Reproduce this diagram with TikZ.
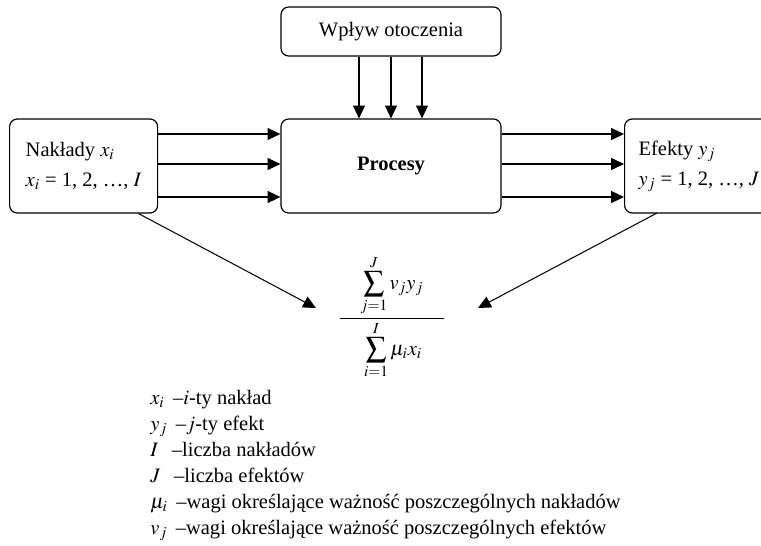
\documentclass[tikz,border=0pt,12pt]{standalone}
\usepackage{amsmath}
\usepackage{mathptmx}
\usepackage{fontspec}
\setmainfont{Liberation Serif}
\usetikzlibrary{arrows.meta,calc}
\tikzset{>={Triangle[length=7.5pt,width=7pt]}}
\tikzset{blok/.style={draw,rounded corners=4.5pt,line width=0.7pt},
         strz/.style={->,line width=0.6pt}}

\begin{document}
\begin{tikzpicture}[x=0.585pt,y=-0.585pt]
\clip (0,0) rectangle (761,546);
\node[blok,minimum width=128.7pt,minimum height=28.7pt] (otocz) at (391,31.5) {Wpływ otoczenia};
\node[blok,minimum width=128.7pt,minimum height=55pt] (proc) at (391,166) {\textbf{Procesy}};
\node[blok,anchor=west,minimum width=86.6pt,minimum height=55pt,inner xsep=7.6pt,align=left] (nakl) at (9,166)
  {Nakłady $x_i$\\[3pt] $x_i$ = 1, 2, \ldots, $I$};
\node[blok,anchor=west,minimum height=55pt,inner xsep=8.2pt,align=left] (efek) at (624,166)
  {Efekty $y_j$\\[3pt] $y_j$ = 1, 2, \ldots, $J$};
\foreach \x in {-32,0,31}
\draw[strz] ($(otocz.south)+(\x,0)$) -- ($(proc.north)+(\x,0)$);
\foreach \y in {-32,-2,31}
{\draw[strz] (nakl.east |- 0,166+\y) -- (proc.west |- 0,166+\y);
 \draw[strz] (proc.east |- 0,166+\y) -- (efek.west |- 0,166+\y);}
\node (wsk) at (392,317)
  {$\dfrac{\quad\displaystyle\sum_{j=1}^{J} v_j y_j\rule[-14pt]{0pt}{14pt}\quad}{\rule{0pt}{6pt}\displaystyle\sum_{i=1}^{I} \mu_i x_i}$};
\draw[strz] ($(nakl.south)+(55,0)$) -- (316,308);
\draw[strz] (657,213) -- (478,308);
\node[anchor=north west,align=left,inner sep=0pt,font=\fontsize{12}{15.2}\selectfont] (leg) at (150,390)
  {$x_i$\ \,--$i$-ty nakład\\
   $y_j$\ \,--$j$-ty efekt\\
   $I$\ \ \,--liczba nakładów\\
   $J$\ \ \,--liczba efektów\\
   $\mu_i$\ \,--wagi określające ważność poszczególnych nakładów\\
   $v_j$\ \,--wagi określające ważność poszczególnych efektów};
\end{tikzpicture}
\end{document}
